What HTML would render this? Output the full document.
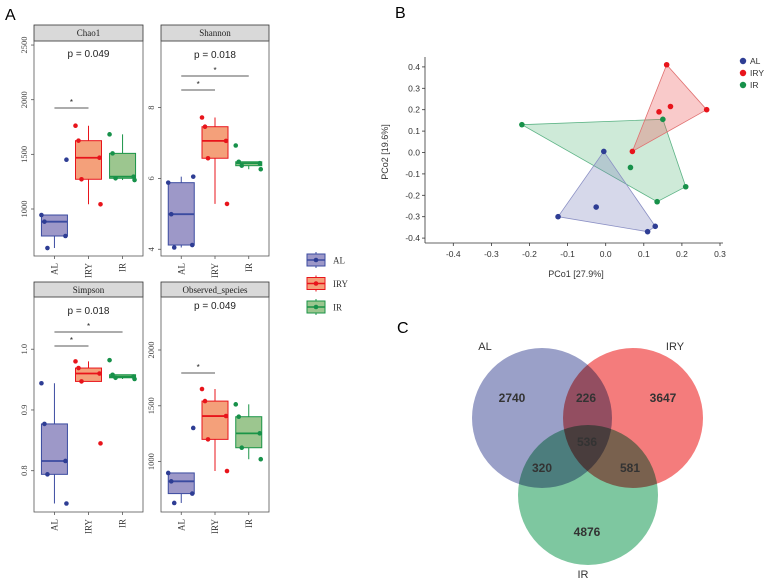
<!DOCTYPE html>
<html><head><meta charset="utf-8"><style>
body{margin:0;background:#fff;}
svg{display:block;}
</style></head><body>
<svg id="fig" width="767" height="580" xmlns="http://www.w3.org/2000/svg">
<text x="5" y="20" font-family="Liberation Sans, sans-serif" font-size="16">A</text>
<text x="395" y="18" font-family="Liberation Sans, sans-serif" font-size="16">B</text>
<text x="397" y="333" font-family="Liberation Sans, sans-serif" font-size="16">C</text>
<g id="boxes"></g><g id="pcoa"></g>
<g id="venn">
<g style="isolation:isolate">
<circle cx="542" cy="418" r="70" fill="#9aa0c8" style="mix-blend-mode:multiply"/>
<circle cx="633" cy="418" r="70" fill="#f47c7c" style="mix-blend-mode:multiply"/>
<circle cx="588" cy="495" r="70" fill="#7ec7a0" style="mix-blend-mode:multiply"/>
</g>
<g font-family="Liberation Sans, sans-serif" font-size="12" font-weight="bold" fill="#333" text-anchor="middle">
<text x="512" y="402">2740</text>
<text x="586" y="402">226</text>
<text x="663" y="402">3647</text>
<text x="587" y="446">536</text>
<text x="542" y="472">320</text>
<text x="630" y="472">581</text>
<text x="587" y="536">4876</text>
</g>
<g font-family="Liberation Sans, sans-serif" font-size="11" fill="#333" text-anchor="middle">
<text x="485" y="350">AL</text>
<text x="675" y="350">IRY</text>
<text x="583" y="578">IR</text>
</g>
</g>
</svg>
<script>
// ---- Boxplot data ----
const groups = ["AL","IRY","IR"];
const chao1AL = [945,884,753,643,1451];
const chao1IRY = [1762,1625,1469,1272,1043];
const chao1IR = [1683,1509,1296,1281,1265];
const shannonAL = [5.88,4.99,4.12,4.05,6.05];
const shannonIRY = [7.72,7.46,7.06,6.57,5.28];
const shannonIR = [6.93,6.47,6.43,6.36,6.26];
const simpsonAL = [0.944,0.877,0.816,0.794,0.746];
const simpsonIRY = [0.980,0.969,0.960,0.947,0.845];
const simpsonIR = [0.982,0.958,0.955,0.953,0.951];
const obsAL = [898,823,713,629,1301];
const obsIRY = [1650,1542,1408,1199,915];
const obsIR = [1513,1402,1253,1124,1021];
const chao1Ticks = [1000,1500,2000,2500];
const shannonTicks = [4,6,8];
const simpsonTicks = [0.8,0.9,1.0];
const obsTicks = [1000,1500,2000];
const pValues = ["p = 0.049","p = 0.018","p = 0.018","p = 0.049"];

// ---- PCoA data ----
const pcoGroups = ["AL","IRY","IR"];
const pc1AL = [-0.005,-0.025,-0.125,0.13,0.11];
const pc2AL = [0.005,-0.255,-0.3,-0.345,-0.37];
const pc1IRY = [0.16,0.14,0.17,0.265,0.07];
const pc2IRY = [0.41,0.19,0.215,0.2,0.005];
const pc1IR = [-0.22,0.15,0.065,0.21,0.135];
const pc2IR = [0.13,0.155,-0.07,-0.16,-0.23];
const pcXTicks = [-0.4,-0.3,-0.2,-0.1,0.0,0.1,0.2,0.3];
const pcYTicks = [-0.4,-0.3,-0.2,-0.1,0.0,0.1,0.2,0.3,0.4];

const NS="http://www.w3.org/2000/svg";
function mk(tag,attrs,parent){const e=document.createElementNS(NS,tag);for(const k in attrs)e.setAttribute(k,attrs[k]);parent.appendChild(e);return e;}
const strokeC={AL:"#3b4ba0",IRY:"#e8141b",IR:"#1a9447"};
const fillC={AL:"#9d98c8",IRY:"#f4a07a",IR:"#9cc68f"};
const ptC={AL:"#2e3d94",IRY:"#e8141b",IR:"#17914a"};
const jit=[-13,-10,11,-7,12];
function q(arr,p){const s=[...arr].sort((a,b)=>a-b);const h=(s.length-1)*p;const lo=Math.floor(h);return s[lo]+(s[Math.ceil(h)]-s[lo])*(h-lo);}

function panel(cfg){
  const g=mk("g",{},document.getElementById("boxes"));
  
  
  const {x0,x1,sy0,sy1,py1,dmin,dmax}=cfg;
  const Y=v=>sy1+(dmax-v)/(dmax-dmin)*(py1-sy1);
  const X=i=>x0+(i+0.6)*(x1-x0)/3.2;
  const strip=mk("rect",{x:x0,y:sy0,width:x1-x0,height:sy1-sy0,fill:"#d9d9d9",stroke:"#333","stroke-width":0.8},g);
  
  
  const st=mk("text",{x:(x0+x1)/2,y:sy0+11,"text-anchor":"middle","font-family":"Liberation Serif, serif","font-size":9,fill:"#222"},g);st.textContent=cfg.title;
  
  
  const fr=mk("rect",{x:x0,y:sy1,width:x1-x0,height:py1-sy1,fill:"none",stroke:"#555","stroke-width":0.8},g);
  
  
  cfg.ticks.forEach(t=>{const y=Y(t);
    mk("line",{x1:x0-3,x2:x0,y1:y,y2:y,stroke:"#555","stroke-width":0.8},g);
    const tt=mk("text",{x:x0-7,y:y,"text-anchor":"middle","font-family":"Liberation Serif, serif","font-size":8.5,fill:"#444",transform:`rotate(-90 ${x0-7} ${y})`},g);tt.textContent=t.toFixed(cfg.dec);
    
    
  });
  groups.forEach((gr,i)=>{const cx=X(i);
    mk("line",{x1:cx,x2:cx,y1:py1,y2:py1+3,stroke:"#555","stroke-width":0.8},g);
    const tl=mk("text",{x:cx+3,y:py1+7,"text-anchor":"end","font-family":"Liberation Serif, serif","font-size":9,fill:"#333",transform:`rotate(-90 ${cx+3} ${py1+7})`},g);tl.textContent=gr;
    
    
    const vals=cfg.data[i];
    const q1=q(vals,0.25),md=q(vals,0.5),q3=q(vals,0.75),iqr=q3-q1;
    const inr=vals.filter(v=>v>=q1-1.5*iqr&&v<=q3+1.5*iqr);
    const lo=Math.min(...inr),hi=Math.max(...inr);const w=13;
    const bg=mk("g",{},g);
    
    
    mk("line",{x1:cx,x2:cx,y1:Y(hi),y2:Y(lo),stroke:strokeC[gr],"stroke-width":1},bg);
    mk("rect",{x:cx-w,y:Y(q3),width:2*w,height:Y(q1)-Y(q3),fill:fillC[gr],stroke:strokeC[gr],"stroke-width":1},bg);
    mk("line",{x1:cx-w,x2:cx+w,y1:Y(md),y2:Y(md),stroke:strokeC[gr],"stroke-width":1.8},bg);
    vals.forEach((v,k)=>{const p=mk("circle",{cx:cx+jit[k],cy:Y(v),r:2.3,fill:ptC[gr]},bg);
      
      });
  });
  const pt=mk("text",{x:(x0+x1)/2,y:cfg.py,"text-anchor":"middle","font-family":"Liberation Sans, sans-serif","font-size":10,fill:"#222"},g);pt.textContent=cfg.p;
  
  
  cfg.sig.forEach(s=>{const a=X(s[0]),b=X(s[1]);
    const l=mk("line",{x1:a,x2:b,y1:s[2],y2:s[2],stroke:"#222","stroke-width":0.8},g);
    
    
    const t=mk("text",{x:(a+b)/2,y:s[2]-3,"text-anchor":"middle","font-family":"Liberation Sans, sans-serif","font-size":8,fill:"#222"},g);t.textContent="*";
    
    });
}
panel({name:"chao1",title:"Chao1",x0:34,x1:143,sy0:25,sy1:41,py1:256,dmin:570,dmax:2537,ticks:chao1Ticks,dec:0,data:[chao1AL,chao1IRY,chao1IR],p:pValues[0],py:57,sig:[[0,1,108]]});
panel({name:"shannon",title:"Shannon",x0:161,x1:269,sy0:25,sy1:41,py1:256,dmin:3.81,dmax:9.88,ticks:shannonTicks,dec:0,data:[shannonAL,shannonIRY,shannonIR],p:pValues[1],py:58,sig:[[0,1,90],[0,2,76]]});
panel({name:"simpson",title:"Simpson",x0:34,x1:143,sy0:282,sy1:297,py1:512,dmin:0.732,dmax:1.086,ticks:simpsonTicks,dec:1,data:[simpsonAL,simpsonIRY,simpsonIR],p:pValues[2],py:314,sig:[[0,1,346],[0,2,332]]});
panel({name:"observed-species",title:"Observed_species",x0:161,x1:269,sy0:282,sy1:297,py1:512,dmin:548,dmax:2475,ticks:obsTicks,dec:0,data:[obsAL,obsIRY,obsIR],p:pValues[3],py:309,sig:[[0,1,373]]});

// boxplot legend
const lg=mk("g",{},document.getElementById("boxes"));


groups.forEach((gr,i)=>{const cy=260+i*23.5;
  const e=mk("g",{},lg);
  
  
  mk("line",{x1:316,x2:316,y1:cy-8,y2:cy+8,stroke:strokeC[gr],"stroke-width":1},e);
  mk("rect",{x:307,y:cy-6,width:18,height:12,fill:fillC[gr],stroke:strokeC[gr],"stroke-width":1},e);
  mk("line",{x1:307,x2:325,y1:cy,y2:cy,stroke:strokeC[gr],"stroke-width":1.5},e);
  mk("circle",{cx:316,cy:cy,r:2.3,fill:ptC[gr]},e);
  const t=mk("text",{x:333,y:cy+3.5,"font-family":"Liberation Serif, serif","font-size":9,fill:"#333"},e);t.textContent=gr;});

// ---- PCoA ----
(function(){
  const g=document.getElementById("pcoa");
  
  
  const X=v=>605.7+v*381;
  const Y=v=>152.5-v*214;
  const ax=425, ay=243;
  mk("line",{x1:ax,x2:723,y1:ay,y2:ay,stroke:"#333","stroke-width":0.8},g);
  mk("line",{x1:ax,x2:ax,y1:57,y2:ay,stroke:"#333","stroke-width":0.8},g);
  pcXTicks.forEach(t=>{const x=X(t);mk("line",{x1:x,x2:x,y1:ay,y2:ay+3,stroke:"#333","stroke-width":0.8},g);
    const tt=mk("text",{x:x,y:ay+14,"text-anchor":"middle","font-family":"Liberation Sans, sans-serif","font-size":8.5,fill:"#333"},g);tt.textContent=t.toFixed(1);
    
    });
  pcYTicks.forEach(t=>{const y=Y(t);mk("line",{x1:ax-3,x2:ax,y1:y,y2:y,stroke:"#333","stroke-width":0.8},g);
    const tt=mk("text",{x:ax-5,y:y+3,"text-anchor":"end","font-family":"Liberation Sans, sans-serif","font-size":8.5,fill:"#333"},g);tt.textContent=t.toFixed(1);
    
    });
  const xt=mk("text",{x:576,y:277,"text-anchor":"middle","font-family":"Liberation Sans, sans-serif","font-size":9,fill:"#333"},g);xt.textContent="PCo1 [27.9%]";
  
  
  const yt=mk("text",{x:388,y:152,"text-anchor":"middle","font-family":"Liberation Sans, sans-serif","font-size":9,fill:"#333",transform:"rotate(-90 388 152)"},g);yt.textContent="PCo2 [19.6%]";
  
  
  const sets={AL:[pc1AL,pc2AL],IRY:[pc1IRY,pc2IRY],IR:[pc1IR,pc2IR]};
  const hullFill={AL:"rgba(120,125,185,0.3)",IRY:"rgba(235,80,80,0.3)",IR:"rgba(60,170,100,0.25)"};
  const hullStroke={AL:"#8a8fc4",IRY:"#e07070",IR:"#5cb385"};
  function hull(pts){pts=pts.slice().sort((a,b)=>a[0]-b[0]||a[1]-b[1]);const cr=(o,a,b)=>(a[0]-o[0])*(b[1]-o[1])-(a[1]-o[1])*(b[0]-o[0]);
    const lo=[],up=[];for(const p of pts){while(lo.length>=2&&cr(lo[lo.length-2],lo[lo.length-1],p)<=0)lo.pop();lo.push(p);}
    for(const p of pts.slice().reverse()){while(up.length>=2&&cr(up[up.length-2],up[up.length-1],p)<=0)up.pop();up.push(p);}
    return lo.slice(0,-1).concat(up.slice(0,-1));}
  ["IR","IRY","AL"].forEach(gr=>{const [a,b]=sets[gr];const pts=a.map((v,i)=>[X(v),Y(b[i])]);
    const h=hull(pts);const pg=mk("polygon",{points:h.map(p=>p.join(",")).join(" "),fill:hullFill[gr],stroke:hullStroke[gr],"stroke-width":0.8},g);
    
    });
  pcoGroups.forEach(gr=>{const [a,b]=sets[gr];a.forEach((v,i)=>{const c=mk("circle",{cx:X(v),cy:Y(b[i]),r:2.8,fill:ptC[gr]},g);
    
    });});
  pcoGroups.forEach((gr,i)=>{const y=61+i*12;
    const e=mk("g",{},g);
    
    
    mk("circle",{cx:743,cy:y,r:3.2,fill:ptC[gr]},e);
    const t=mk("text",{x:750,y:y+3,"font-family":"Liberation Sans, sans-serif","font-size":8.5,fill:"#333"},e);t.textContent=gr;});
})();
</script>
</body></html>
